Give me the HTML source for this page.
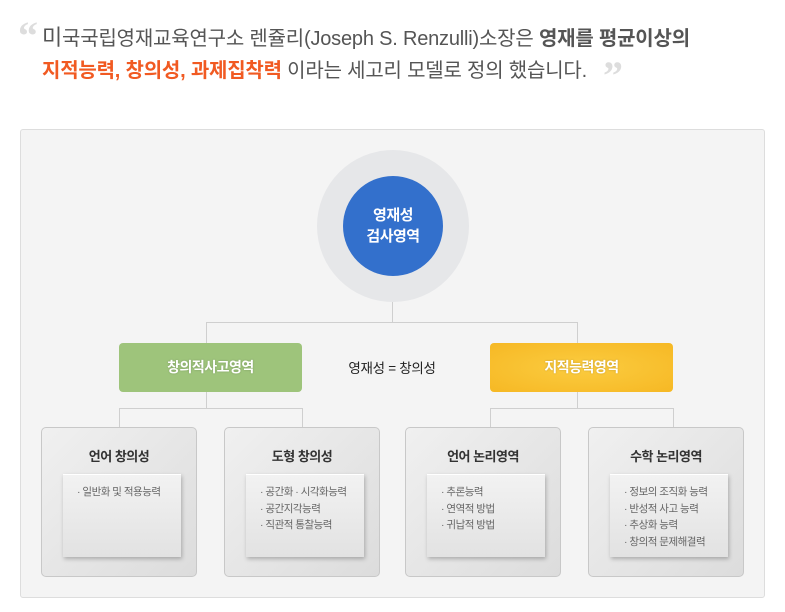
<!DOCTYPE html>
<html><head><meta charset="utf-8"><style>
*{margin:0;padding:0;box-sizing:border-box}
body{width:785px;height:612px;background:#fff;font-family:"Liberation Sans","Noto Sans CJK KR",sans-serif;position:relative;overflow:hidden}
.a{position:absolute}
.q{color:#ddd;font-size:40px;font-family:"Liberation Serif",serif;font-weight:bold}
.t{font-size:20px;color:#555;white-space:nowrap;letter-spacing:-0.2px}
.panel{left:20px;top:129px;width:745px;height:469px;background:#f4f4f4;border:1px solid #ddd;border-radius:3px}
.l{background:#cfcfcf}
.box{width:156px;height:150px;border:1px solid #c8c8c8;border-radius:5px;background:linear-gradient(135deg,#f0f0f0,#dcdcdc);top:427px}
.box h3{position:absolute;top:18px;width:100%;text-align:center;font-size:13px;color:#333;font-weight:bold;letter-spacing:-0.5px}
.in{position:absolute;top:46px;left:21px;width:118px;height:83px;background:linear-gradient(#f2f2f2,#e2e2e2);box-shadow:1px 2px 4px rgba(0,0,0,.25);border-top:1px solid #fff;font-size:10.5px;color:#666;line-height:16.5px;padding:9px 0 0 14px;letter-spacing:-0.5px;white-space:nowrap}
.mid{top:343px;width:183px;height:49px;border-radius:4px;color:#fff;font-weight:bold;font-size:14px;text-align:center;line-height:49px;letter-spacing:-0.5px;text-shadow:0 0 2px rgba(0,0,0,.2)}
</style></head><body>
<div class="a q" style="left:18px;top:12px">&#8220;</div>
<div class="a t" style="left:42px;top:20px"><span style="font-size:22px">미</span>국국립영재교육연구소 렌쥴리(Joseph S. Renzulli)소장은 <b>영재를 평균이상의</b></div>
<div class="a t" style="left:42px;top:54px"><b style="color:#f15a22">지적능력, 창의성, 과제집착력</b> 이라는 세고리 모델로 정의 했습니다.</div>
<div class="a q" style="left:603px;top:52px">&#8221;</div>

<div class="a panel"></div>
<div class="a" style="left:317px;top:150px;width:152px;height:152px;border-radius:50%;background:#e6e7e9"></div>
<div class="a" style="left:343px;top:176px;width:100px;height:100px;border-radius:50%;background:#3370cc;color:#fff;font-weight:bold;font-size:15px;text-align:center;line-height:21px;padding-top:29px;letter-spacing:-0.5px">영재성<br>검사영역</div>

<div class="a l" style="left:392px;top:302px;width:1px;height:20px"></div>
<div class="a l" style="left:206px;top:322px;width:372px;height:1px"></div>
<div class="a l" style="left:206px;top:322px;width:1px;height:21px"></div>
<div class="a l" style="left:577px;top:322px;width:1px;height:21px"></div>

<div class="a mid" style="left:119px;background:#9ec47b">창의적사고영역</div>
<div class="a mid" style="left:490px;background:radial-gradient(ellipse at center,#fbcc40,#f6b824)">지적능력영역</div>
<div class="a" style="left:336px;top:357px;width:112px;text-align:center;font-size:13.5px;color:#222;letter-spacing:-0.3px">영재성 = 창의성</div>

<div class="a l" style="left:206px;top:392px;width:1px;height:16px"></div>
<div class="a l" style="left:119px;top:408px;width:183px;height:1px"></div>
<div class="a l" style="left:119px;top:408px;width:1px;height:19px"></div>
<div class="a l" style="left:302px;top:408px;width:1px;height:19px"></div>
<div class="a l" style="left:577px;top:392px;width:1px;height:16px"></div>
<div class="a l" style="left:490px;top:408px;width:184px;height:1px"></div>
<div class="a l" style="left:490px;top:408px;width:1px;height:19px"></div>
<div class="a l" style="left:673px;top:408px;width:1px;height:19px"></div>

<div class="a box" style="left:41px"><h3>언어 창의성</h3><div class="in">· 일반화 및 적용능력</div></div>
<div class="a box" style="left:224px"><h3>도형 창의성</h3><div class="in">· 공간화 · 시각화능력<br>· 공간지각능력<br>· 직관적 통찰능력</div></div>
<div class="a box" style="left:405px"><h3>언어 논리영역</h3><div class="in">· 추론능력<br>· 연역적 방법<br>· 귀납적 방법</div></div>
<div class="a box" style="left:588px"><h3>수학 논리영역</h3><div class="in">· 정보의 조직화 능력<br>· 반성적 사고 능력<br>· 추상화 능력<br>· 창의적 문제해결력</div></div>
</body></html>
